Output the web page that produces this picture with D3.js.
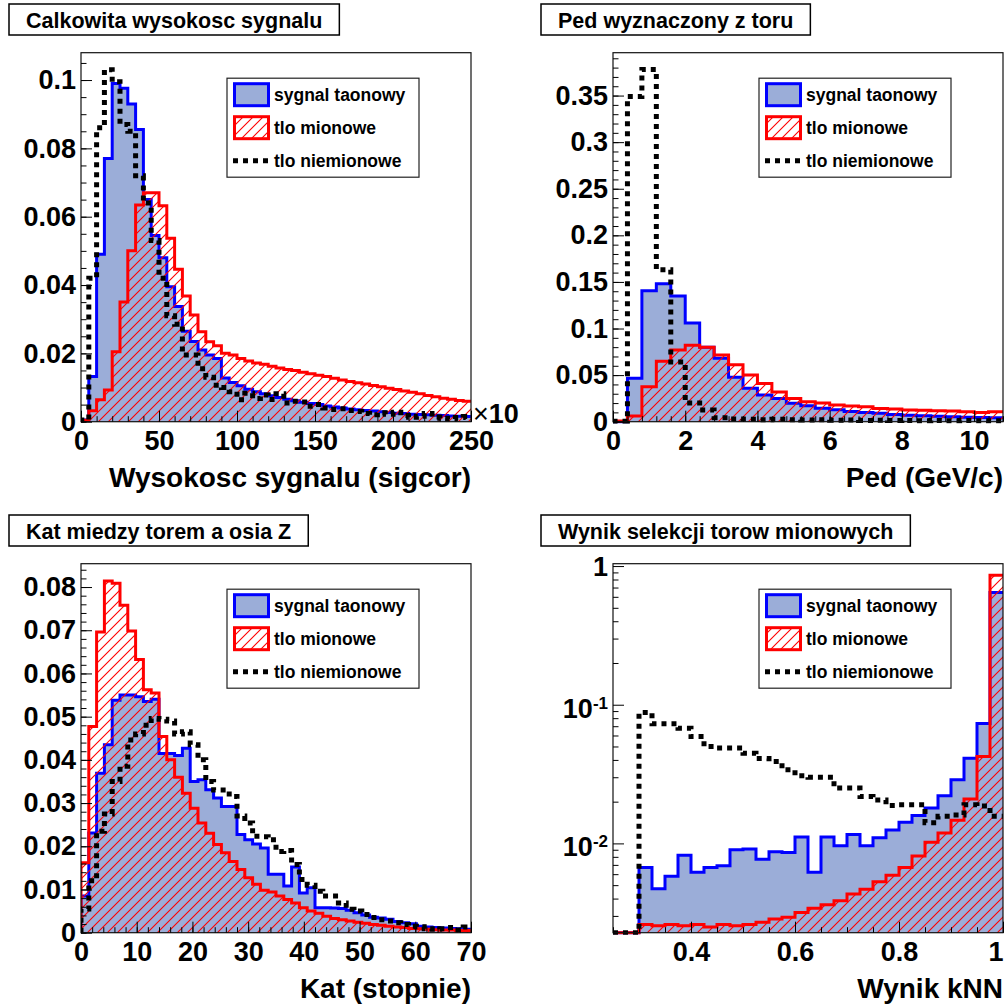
<!DOCTYPE html>
<html>
<head>
<meta charset="utf-8">
<script src="https://cdn.jsdelivr.net/npm/d3@7"></script>
<style>
body { margin: 0; background: #fff; }
svg text { font-family: "Liberation Sans", Arial, Helvetica, sans-serif; font-weight: bold; fill: #000; }
</style>
</head>
<body>
<script>
// legend entries (same for all four pads)
const seriesNames = ["sygnal taonowy", "tlo mionowe", "tlo niemionowe"];

// pad 1: Calkowita wysokosc sygnalu, 50 bins 0..250
const tlSygnal = [0.0005,0.0132,0.049,0.077,0.099,0.0976,0.093,0.0855,0.065,0.0545,
  0.048,0.0395,0.0337,0.0265,0.0235,0.021,0.0195,0.0185,0.0128,0.0115,
  0.0105,0.0095,0.0088,0.0082,0.0076,0.0071,0.0066,0.0061,0.0057,0.0053,
  0.0050,0.0046,0.0043,0.0040,0.0037,0.0035,0.0033,0.0031,0.0029,0.0027,
  0.0025,0.0024,0.0022,0.0021,0.0020,0.0019,0.0018,0.0017,0.0016,0.0015];
const tlMion = [0.0004,0.0032,0.0064,0.0093,0.0205,0.035,0.050,0.0634,0.067,0.067,
  0.0632,0.0537,0.0446,0.0368,0.0312,0.0263,0.0234,0.0222,0.0200,0.0195,
  0.0185,0.0178,0.0172,0.0168,0.0162,0.0157,0.0153,0.0150,0.0145,0.0140,
  0.0136,0.0132,0.0127,0.0122,0.0118,0.0114,0.0110,0.0106,0.0102,0.0098,
  0.0094,0.0090,0.0086,0.0082,0.0077,0.0073,0.0069,0.0066,0.0062,0.0060];
const tlNiemion = [0.0005,0.042,0.086,0.103,0.0995,0.087,0.085,0.072,0.064,0.053,
  0.042,0.031,0.0285,0.0195,0.0195,0.0155,0.013,0.0107,0.0100,0.0088,
  0.0064,0.0083,0.0068,0.0078,0.0065,0.0082,0.0055,0.0060,0.0058,0.0045,
  0.0050,0.0040,0.0036,0.0038,0.0033,0.0030,0.0024,0.0020,0.0026,0.0022,
  0.0028,0.0018,0.0013,0.0016,0.0024,0.0014,0.0010,0.0008,0.0012,0.0015];
const tlXTicks = [0, 50, 100, 150, 200, 250];
const tlYTicks = [0, 0.02, 0.04, 0.06, 0.08, 0.1];

// pad 2: Ped wyznaczony z toru, 27 bins 0..10.8
const trSygnal = [0,0.0465,0.1405,0.148,0.135,0.106,0.080,0.068,0.0476,0.036,
  0.0286,0.025,0.0197,0.017,0.0145,0.0128,0.011,0.0098,0.009,0.0078,
  0.007,0.0064,0.0058,0.0052,0.0048,0.0045,0.0042];
const trMion = [0.0007,0.006,0.0375,0.065,0.077,0.082,0.080,0.0715,0.061,0.050,
  0.041,0.032,0.025,0.0215,0.020,0.018,0.0168,0.016,0.0143,0.0136,
  0.0125,0.0124,0.0118,0.0115,0.0107,0.0100,0.0107];
const trNiemion = [0.0005,0.349,0.378,0.163,0.064,0.020,0.0125,0.0043,0.0028,0.0025,
  0.0022,0.0025,0.002,0.0018,0.0022,0.0015,0.0018,0.0014,0.0016,0.0012,
  0.0014,0.0011,0.0013,0.001,0.0012,0.0011,0.0010];
const trXTicks = [0, 2, 4, 6, 8, 10];
const trYTicks = [0, 0.05, 0.1, 0.15, 0.2, 0.25, 0.3, 0.35];

// pad 3: Kat miedzy torem a osia Z, 50 bins 0..70
const blSygnal = [0.0085,0.0231,0.0369,0.0435,0.0538,0.055,0.055,0.0546,0.0535,0.054,
  0.0415,0.0415,0.041,0.0427,0.035,0.0354,0.0331,0.0312,0.0292,0.0292,
  0.0227,0.0215,0.0205,0.0196,0.0135,0.0135,0.0108,0.0152,0.0092,0.0104,
  0.0058,0.0058,0.0057,0.0056,0.0052,0.0046,0.0041,0.0036,0.0034,0.0031,
  0.0026,0.0023,0.0021,0.0015,0.0013,0.0012,0.0011,0.0010,0.0009,0.0008];
const blMion = [0.0162,0.0477,0.0696,0.0814,0.0809,0.0758,0.0698,0.0632,0.0562,0.0555,
  0.0454,0.040,0.036,0.0323,0.0288,0.0254,0.023,0.0204,0.0185,0.0165,
  0.0146,0.0127,0.0112,0.0098,0.0094,0.0085,0.0077,0.0069,0.0058,0.0050,
  0.0045,0.0038,0.0033,0.0030,0.0027,0.0024,0.0022,0.0019,0.0017,0.0015,
  0.0013,0.0012,0.0010,0.0009,0.0008,0.0007,0.0006,0.0006,0.0005,0.0005];
const blNiemion = [0.0055,0.012,0.0235,0.0275,0.035,0.0385,0.0446,0.046,0.048,0.0496,
  0.0494,0.049,0.046,0.0465,0.0435,0.040,0.035,0.033,0.033,0.0315,
  0.027,0.0254,0.0223,0.0222,0.0215,0.0188,0.019,0.0158,0.0123,0.011,
  0.0096,0.0085,0.0085,0.0069,0.0054,0.005,0.0042,0.0035,0.003,0.0027,
  0.0023,0.0019,0.0015,0.0014,0.0009,0.0008,0.0009,0.0012,0.0006,0.0013];
const blXTicks = [0, 10, 20, 30, 40, 50, 60, 70];
const blYTicks = [0, 0.01, 0.02, 0.03, 0.04, 0.05, 0.06, 0.07, 0.08];

// pad 4: Wynik selekcji torow mionowych, 30 bins 0.25..1 (log y)
const brSygnal = [0,0,0.0067,0.0047,0.0058,0.0082,0.0062,0.0067,0.0069,0.0090,
  0.0091,0.0077,0.0087,0.0086,0.0111,0.0062,0.0111,0.0096,0.0116,0.0096,
  0.0110,0.0125,0.0142,0.0159,0.0180,0.0221,0.0288,0.0411,0.0733,0.644];
const brMion = [0,0,0.0026,0.00255,0.0026,0.00255,0.0026,0.0025,0.0026,0.00255,
  0.0026,0.0027,0.00285,0.00293,0.00318,0.0034,0.00361,0.00386,0.00431,0.00468,
  0.00528,0.0059,0.0067,0.0081,0.0102,0.0119,0.0147,0.0209,0.0423,0.857];
const brNiemion = [0,0,0.088,0.073,0.073,0.0677,0.0589,0.0499,0.0487,0.0487,
  0.0447,0.041,0.039,0.034,0.0307,0.030,0.030,0.0251,0.0251,0.0218,
  0.0206,0.0188,0.019,0.019,0.0141,0.0157,0.016,0.019,0.0186,0.0157];
const brXTicks = [0.4, 0.6, 0.8, 1];
const brYTicks = [0.01, 0.1, 1];

const panels = [
  {ox: 0, oy: 0, title: "Calkowita wysokosc sygnalu", xlabel: "Wysokosc sygnalu (sigcor)",
   xmin: 0, xmax: 250, ymax: 0.108, xTicks: tlXTicks, xMinor: 10, yTicks: tlYTicks, yMinor: 0.005,
   data: [tlSygnal, tlMion, tlNiemion], exponent: true},
  {ox: 532, oy: 0, title: "Ped wyznaczony z toru", xlabel: "Ped (GeV/c)",
   xmin: 0, xmax: 10.8, ymax: 0.396, xTicks: trXTicks, xMinor: 0.4, yTicks: trYTicks, yMinor: 0.01,
   data: [trSygnal, trMion, trNiemion]},
  {ox: 0, oy: 511, title: "Kat miedzy torem a osia Z", xlabel: "Kat (stopnie)",
   xmin: 0, xmax: 70, ymax: 0.0854, xTicks: blXTicks, xMinor: 2, yTicks: blYTicks, yMinor: 0.002,
   data: [blSygnal, blMion, blNiemion]},
  {ox: 532, oy: 511, title: "Wynik selekcji torow mionowych", xlabel: "Wynik kNN",
   xmin: 0.25, xmax: 1.0, log: true, ymin: 0.00227, ymax: 1.04, xTicks: brXTicks, xMinor: 0.05, yTicks: brYTicks,
   data: [brSygnal, brMion, brNiemion]}
];

const blueFill = "#9badd8";
const svg = d3.select("body").append("svg").attr("width", 1004).attr("height", 1006);
const defs = svg.append("defs");
defs.append("pattern").attr("id", "hatch").attr("patternUnits", "userSpaceOnUse")
    .attr("width", 10).attr("height", 10)
  .append("path").attr("d", "M-1,1 L1,-1 M0,10 L10,0 M9,11 L11,9")
    .attr("stroke", "#f00").attr("stroke-width", 1.1);

function steps(lo, hi, step) {
  const out = [];
  for (let i = Math.ceil(lo / step - 1e-9); i * step <= hi + 1e-9; i++) out.push(+(i * step).toFixed(10));
  return out;
}

function drawPanel(p, idx) {
  const L = 81 + p.ox, R = 471 + p.ox, T = 52.7 + p.oy, B = 421.7 + p.oy;
  const g = svg.append("g");

  const x = d3.scaleLinear().domain([p.xmin, p.xmax]).range([L, R]);
  const y = p.log
    ? d3.scaleLog().domain([p.ymin, p.ymax]).range([B, T]).clamp(true)
    : d3.scaleLinear().domain([0, p.ymax]).range([B, T]);
  const yv = v => p.log ? y(Math.max(v, p.ymin)) : y(v);
  const nb = p.data[0].length;
  const dx = (p.xmax - p.xmin) / nb;

  const stepPath = vals => {
    let d = `M${x(p.xmin)},${B}`;
    vals.forEach((v, i) => { d += `V${yv(v)}H${x(p.xmin + (i + 1) * dx)}`; });
    return d;
  };

  // clip to frame
  defs.append("clipPath").attr("id", "clip" + idx)
    .append("rect").attr("x", L).attr("y", T).attr("width", R - L).attr("height", B - T + 2);
  const h = g.append("g").attr("clip-path", `url(#clip${idx})`);

  const [sig, mion, niem] = p.data;
  h.append("path").attr("d", stepPath(sig) + `V${B}Z`).attr("fill", blueFill);
  h.append("path").attr("d", stepPath(sig)).attr("fill", "none").attr("stroke", "#00f").attr("stroke-width", 3);
  h.append("path").attr("d", stepPath(mion) + `V${B}Z`).attr("fill", "url(#hatch)");
  h.append("path").attr("d", stepPath(mion)).attr("fill", "none").attr("stroke", "#f00").attr("stroke-width", 3);
  h.append("path").attr("d", stepPath(niem)).attr("fill", "none").attr("stroke", "#000")
    .attr("stroke-width", 5).attr("stroke-dasharray", "5,5");

  // frame
  g.append("rect").attr("x", L).attr("y", T).attr("width", R - L).attr("height", B - T)
    .attr("fill", "none").attr("stroke", "#111").attr("stroke-width", 1.2);

  const tickFont = 'bold 27px "Liberation Sans", Arial, sans-serif';

  // x axis
  const xMin = g.append("g").attr("transform", `translate(0,${B})`)
    .call(d3.axisBottom(x).tickValues(steps(p.xmin, p.xmax, p.xMinor)).tickSize(-5.5).tickFormat(""));
  const xMaj = g.append("g").attr("transform", `translate(0,${B})`)
    .call(d3.axisBottom(x).tickValues(p.xTicks).tickSize(-11).tickPadding(9).tickFormat(d3.format("~g")));
  [xMin, xMaj].forEach(a => { a.select(".domain").remove(); a.selectAll("line").attr("stroke", "#000"); });
  xMaj.selectAll("text").style("font", tickFont).attr("fill", "#000");
  // keep a label that would run past the page edge inside it
  xMaj.selectAll(".tick").each(function (d) {
    const t = d3.select(this).select("text");
    const half = t.node().getComputedTextLength() / 2;
    if (x(d) + half > 1003) t.attr("text-anchor", "end").attr("x", 1003 - x(d));
  });

  // y axis
  if (p.log) {
    const minors = [];
    [-3, -2, -1, 0].forEach(e => { for (let m = 2; m <= 9; m++) { const v = m * Math.pow(10, e); if (v >= p.ymin && v <= p.ymax) minors.push(v); } });
    const yMin = g.append("g").attr("transform", `translate(${L},0)`)
      .call(d3.axisLeft(y).tickValues(minors).tickSize(-5.5).tickFormat(""));
    const yMaj = g.append("g").attr("transform", `translate(${L},0)`)
      .call(d3.axisLeft(y).tickValues(p.yTicks).tickSize(-11).tickFormat(""));
    [yMin, yMaj].forEach(a => { a.select(".domain").remove(); a.selectAll("line").attr("stroke", "#000"); });
    p.yTicks.forEach(v => {
      const e = Math.round(Math.log10(v));
      const t = g.append("text").attr("x", L - 5).attr("text-anchor", "end").style("font", tickFont);
      if (e === 0) {
        t.attr("y", y(v)).attr("dy", "0.35em").text("1");
      } else {
        t.attr("y", y(v) + 13);
        t.append("tspan").text("10");
        t.append("tspan").attr("dy", -9).style("font-size", "17px").text(String(e));
      }
    });
  } else {
    const yMin = g.append("g").attr("transform", `translate(${L},0)`)
      .call(d3.axisLeft(y).tickValues(steps(0, p.ymax, p.yMinor)).tickSize(-5.5).tickFormat(""));
    const yMaj = g.append("g").attr("transform", `translate(${L},0)`)
      .call(d3.axisLeft(y).tickValues(p.yTicks).tickSize(-11).tickPadding(5).tickFormat(d3.format("~g")));
    [yMin, yMaj].forEach(a => { a.select(".domain").remove(); a.selectAll("line").attr("stroke", "#000"); });
    yMaj.selectAll("text").style("font", tickFont).attr("fill", "#000");
  }

  // axis title
  g.append("text").attr("x", R).attr("y", B + 65).attr("text-anchor", "end")
    .style("font-size", "28px").text(p.xlabel);

  if (p.exponent) {
    const t = g.append("text").attr("x", R + 2).attr("y", B + 1).style("font-size", "27px");
    t.append("tspan").style("font-weight", "normal").text("\u00d7");
    t.append("tspan").text("10");
  }

  // title box
  const tbox = g.append("rect").attr("x", 9 + p.ox).attr("y", 4 + p.oy).attr("height", 31)
    .attr("fill", "#fff").attr("stroke", "#000").attr("stroke-width", 1.5);
  const tt = g.append("text").attr("x", 26 + p.ox).attr("y", 28 + p.oy).style("font-size", "21.5px").text(p.title);
  tbox.attr("width", tt.node().getComputedTextLength() + 34);

  // legend
  const lx = L + 146, ly = T + 25.5, lw = 192, lh = 99;
  const lg = g.append("g");
  lg.append("rect").attr("x", lx).attr("y", ly).attr("width", lw).attr("height", lh)
    .attr("fill", "#fff").attr("stroke", "#222").attr("stroke-width", 1.2);
  seriesNames.forEach((name, i) => {
    const cy = ly + 16.5 + 33 * i;
    if (i === 0) {
      lg.append("rect").attr("x", lx + 7.5).attr("y", cy - 11).attr("width", 34).attr("height", 22)
        .attr("fill", blueFill).attr("stroke", "#00f").attr("stroke-width", 3);
    } else if (i === 1) {
      lg.append("rect").attr("x", lx + 7.5).attr("y", cy - 11).attr("width", 34).attr("height", 22)
        .attr("fill", "url(#hatch)").attr("stroke", "#f00").attr("stroke-width", 3);
    } else {
      lg.append("line").attr("x1", lx + 6).attr("x2", lx + 42).attr("y1", cy).attr("y2", cy)
        .attr("stroke", "#000").attr("stroke-width", 5).attr("stroke-dasharray", "5,5");
    }
    lg.append("text").attr("x", lx + 47).attr("y", cy).attr("dy", "0.35em")
      .style("font-size", "17.5px").text(name);
  });
}

panels.forEach(drawPanel);
</script>
</body>
</html>
